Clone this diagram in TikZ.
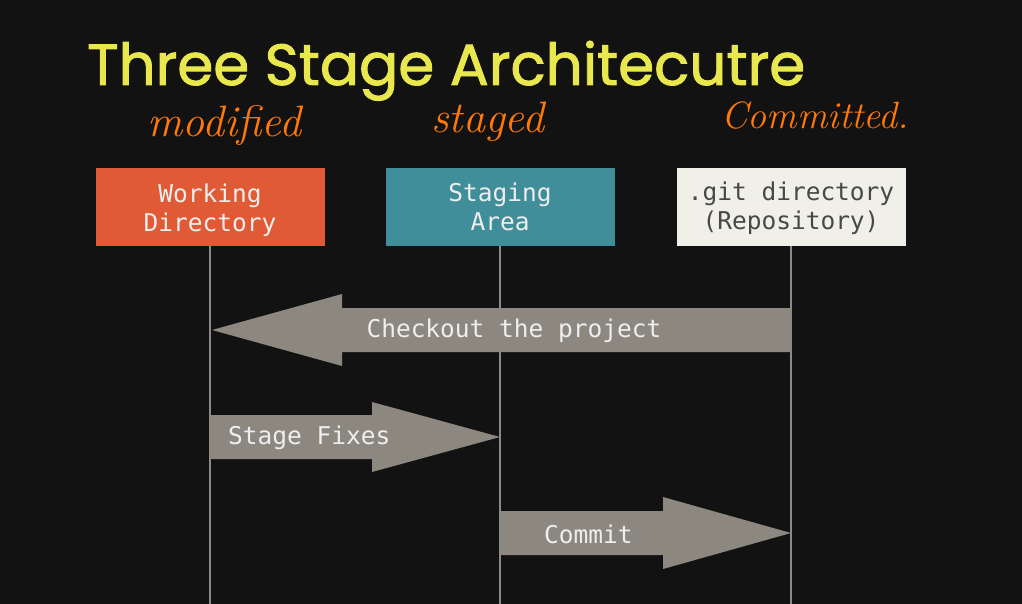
\documentclass[tikz,border=0pt]{standalone}
\usepackage{fontspec}
\setmonofont{DejaVu Sans Mono}
\newfontfamily\titlefont{Poppins}[FakeBold=1.6]
\usetikzlibrary{calc}
\definecolor{bg}{RGB}{18,18,18}
\definecolor{titleyellow}{RGB}{232,232,78}
\definecolor{inkorange}{RGB}{255,120,8}
\definecolor{wdfill}{RGB}{224,90,53}
\definecolor{safill}{RGB}{64,142,153}
\definecolor{gitfill}{RGB}{240,239,232}
\definecolor{gittext}{RGB}{72,72,72}
\definecolor{boxtext}{RGB}{238,238,238}
\definecolor{lifegray}{RGB}{138,138,138}
\definecolor{arrowfill}{RGB}{140,136,128}
\tikzset{
  areabox/.style={minimum width=229pt, minimum height=78pt, inner sep=0pt},
  areatext/.style={inner sep=0pt, align=center, font=\ttfamily\fontsize{24.5}{29}\selectfont, text=boxtext},
  lifeline/.style={draw=lifegray, line width=1.5pt},
  flowarrow/.style={fill=arrowfill},
  flowlabel/.style={font=\ttfamily\fontsize{24.5}{29}\selectfont, text=boxtext, inner sep=0pt},
  ink/.style={font=\itshape\fontsize{44}{44}\selectfont, text=inkorange, inner sep=0pt}
}
\begin{document}
\begin{tikzpicture}[x=1pt,y=-1pt]
  \fill[bg] (0,0) rectangle (1022,604);
  \useasboundingbox (0,0) rectangle (1022,604);

  % heading and state notes
  \node[anchor=base west, inner sep=0pt, text=titleyellow,
        font=\titlefont\fontsize{58}{58}\selectfont] (title) at (87,85) {Three Stage Architecutre};
  \node[ink, anchor=base west] (nmod) at (147,137) {modified};
  \node[ink, anchor=base west] (nstg) at (431,133) {staged};
  \node[ink, anchor=base west, font=\itshape\fontsize{38}{38}\selectfont] (ncom) at (721,129) {Committed.};

  % the three areas
  \node[areabox, fill=wdfill] (wd) at (210,207) {};
  \node[areabox, fill=safill] (sa) at (500,207) {};
  \node[areabox, fill=gitfill] (git) at (791,207) {};
  \node[areatext] (wdlabel) at ($(wd.center)+(0,3)$) {Working\\Directory};
  \node[areatext] (salabel) at (sa.center) {Staging\\Area};
  \node[areatext, text=gittext] (gitlabel) at ($(git.center)+(0,1)$) {.git directory\\(Repository)};

  % lifelines
  \coordinate (wdend) at (210,604);
  \coordinate (saend) at (500,604);
  \coordinate (gitend) at (791,604);
  \draw[lifeline] (wd.south) -- (wdend);
  \draw[lifeline] (sa.south) -- (saend);
  \draw[lifeline] (git.south) -- (gitend);

  % checkout: repository -> working directory
  \coordinate (cotip) at (212,330);
  \coordinate (cotail) at (791,330);
  \fill[flowarrow] ($(cotail)+(0,-22)$) -- ($(cotip)+(130,-22)$) -- ($(cotip)+(130,-36)$)
     -- (cotip) -- ($(cotip)+(130,36)$) -- ($(cotip)+(130,22)$) -- ($(cotail)+(0,22)$) -- cycle;
  \node[flowlabel] (colabel) at (514,331) {Checkout the project};

  % stage fixes: working directory -> staging area
  \coordinate (sftail) at (210,437);
  \coordinate (sftip) at (500,437);
  \fill[flowarrow] ($(sftail)+(0,-22)$) -- ($(sftip)+(-128,-22)$) -- ($(sftip)+(-128,-35)$)
     -- (sftip) -- ($(sftip)+(-128,35)$) -- ($(sftip)+(-128,22)$) -- ($(sftail)+(0,22)$) -- cycle;
  \node[flowlabel, anchor=west] (sflabel) at (228,438) {Stage Fixes};

  % commit: staging area -> repository
  \coordinate (cmtail) at (500,533);
  \coordinate (cmtip) at (791,533);
  \fill[flowarrow] ($(cmtail)+(0,-22)$) -- ($(cmtip)+(-128,-22)$) -- ($(cmtip)+(-128,-36)$)
     -- (cmtip) -- ($(cmtip)+(-128,36)$) -- ($(cmtip)+(-128,22)$) -- ($(cmtail)+(0,22)$) -- cycle;
  \node[flowlabel, anchor=west] (cmlabel) at (544,534) {Commit};
\end{tikzpicture}
\end{document}
